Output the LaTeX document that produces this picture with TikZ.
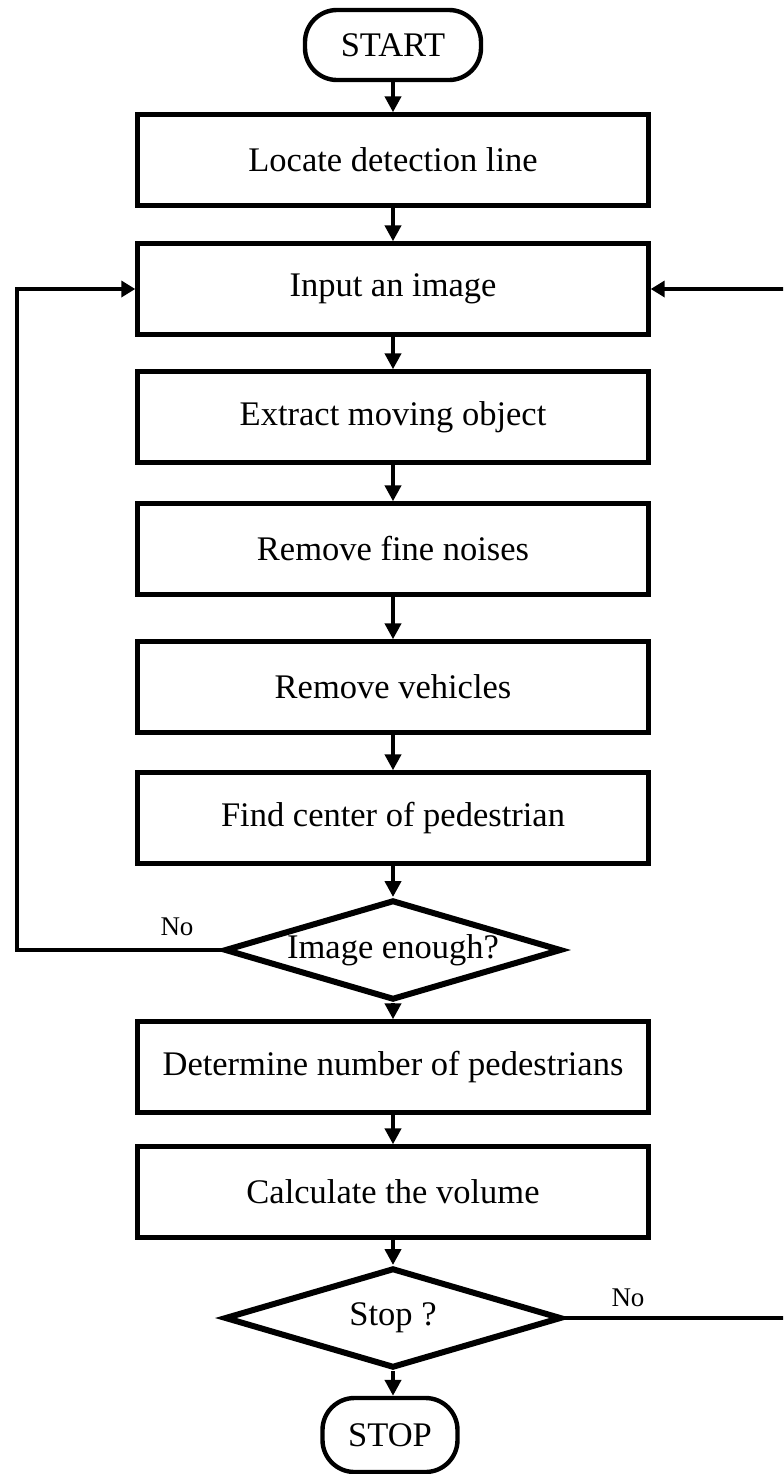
\documentclass[tikz,border=0pt]{standalone}
\usepackage{fontspec}
\setmainfont{Liberation Serif}
\usetikzlibrary{shapes.geometric,arrows.meta}
\begin{document}
\begin{tikzpicture}[x=0.5pt,y=-0.5pt,
  txt/.style={font=\fontsize{17.25}{20}\selectfont},
  procbox/.style={draw,line width=2.2pt,minimum width=255.5pt,minimum height=45.5pt,inner sep=0pt,txt},
  termbox/.style={draw,line width=2.2pt,rounded corners=16pt,inner sep=0pt,txt},
  decision/.style={diamond,draw,line width=3pt,shape aspect=3.37,minimum width=168.5pt,minimum height=50pt,inner sep=0pt,txt},
  flow/.style={line width=2.2pt,-{Triangle[width=8pt,length=8pt]}},
  loopline/.style={line width=2.2pt,-{Triangle[width=8pt,length=7pt]}},
  nolabel/.style={font=\fontsize{13.5}{16}\selectfont}]
\useasboundingbox (0,0) rectangle (783,1474);
\clip (0,0) rectangle (783,1474);
\fill[white] (0,0) rectangle (783,1474);

% terminals, steps and decisions, top to bottom
\node[termbox,minimum width=88pt,minimum height=35pt] (start) at (393,45) {START};
\node[procbox] (b1) at (393,160) {Locate detection line};
\node[procbox] (b2) at (393,289) {Input an image};
\node[procbox] (b3) at (393,417) {Extract moving object};
\node[procbox] (b4) at (393,549) {Remove fine noises};
\node[procbox] (b5) at (393,687) {Remove vehicles};
\node[procbox] (b6) at (393,818) {Find center of pedestrian};
\node[decision] (d1) at (393,950) {Image enough?};
\node[procbox] (b7) at (393,1067) {Determine number of pedestrians};
\node[procbox] (b8) at (393,1192) {Calculate the volume};
\node[decision] (d2) at (393,1318) {Stop ?};
\node[termbox,minimum width=67.5pt,minimum height=37pt] (stop) at (390,1435) {STOP};

% main flow
\draw[flow] (start.south) -- (b1.north);
\draw[flow] (b1.south) -- (b2.north);
\draw[flow] (b2.south) -- (b3.north);
\draw[flow] (b3.south) -- (b4.north);
\draw[flow] (b4.south) -- (b5.north);
\draw[flow] (b5.south) -- (b6.north);
\draw[flow] (b6.south) -- (d1.north);
\draw[flow] (d1.south) -- (b7.north);
\draw[flow] (b7.south) -- (b8.north);
\draw[flow] (b8.south) -- (d2.north);
\draw[flow] (d2.south) -- (stop.north -| d2.south);

% return loops to the image input
\coordinate (lx) at (17,0);
\coordinate (rx) at (795,0);
\draw[loopline] (d1.west) -- (d1.west -| lx) -- (lx |- b2.west) -- (b2.west);
\draw[loopline] (d2.east) -- (d2.east -| rx) -- (rx |- b2.east) -- (b2.east);

\node[nolabel] (no1) at (177,927) {No};
\node[nolabel] (no2) at (628,1298) {No};
\end{tikzpicture}
\end{document}
